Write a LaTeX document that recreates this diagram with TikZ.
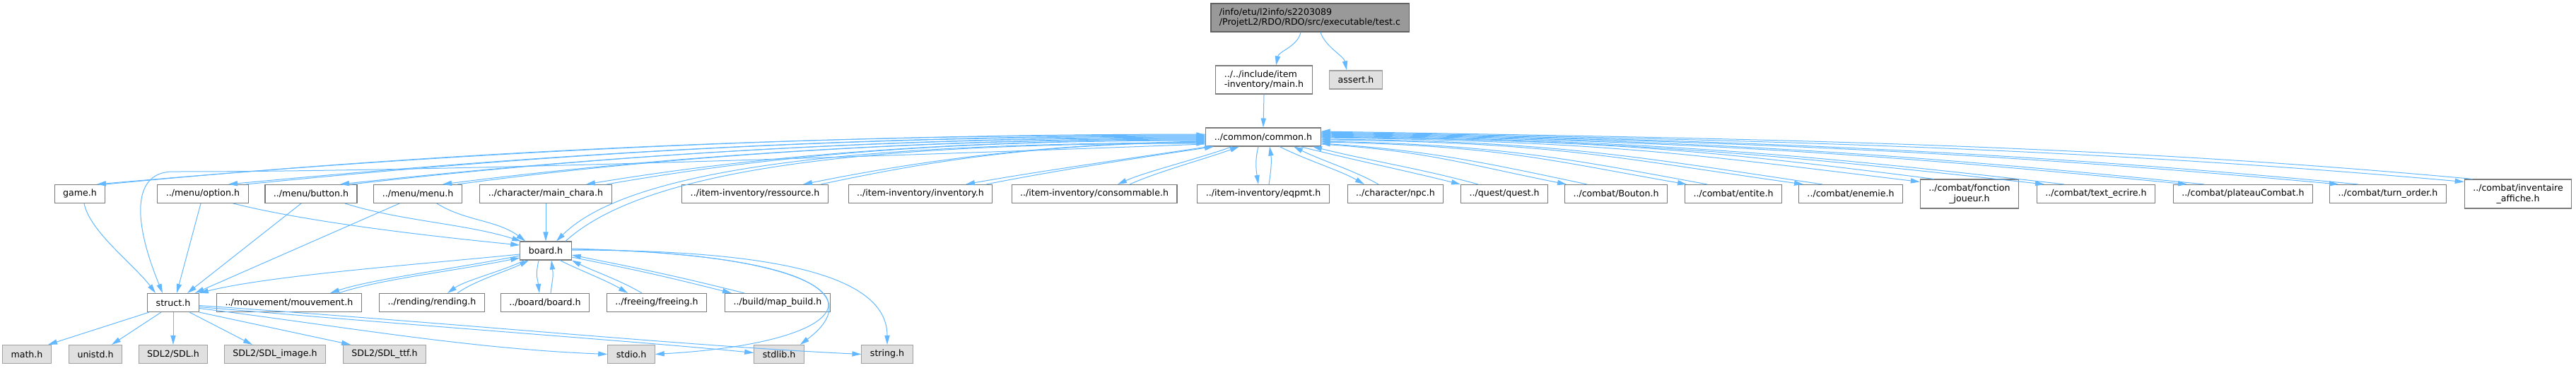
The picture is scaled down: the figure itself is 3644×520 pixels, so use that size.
\documentclass[tikz,border=0pt]{standalone}
\usepackage{fontspec}
\setmainfont{DejaVu Sans}
\usepackage{tikz}
\usetikzlibrary{arrows.meta}
\definecolor{dxEdge}{HTML}{63B8FF}
\definecolor{dxFrame}{HTML}{7A7A7A}
\definecolor{dxSys}{HTML}{E0E0E0}
\definecolor{dxSysFrame}{HTML}{A0A0A0}
\definecolor{dxRoot}{HTML}{999999}
\begin{document}
\begin{tikzpicture}[x=0.5pt, y=0.5pt, font=\fontsize{6.3}{7.2}\selectfont,
  hfile/.style={draw=dxFrame, fill=white, line width=0.55pt, inner xsep=6pt, inner ysep=1pt, minimum height=13pt},
  twoline/.style={hfile, minimum height=20.5pt, align=center},
  syshdr/.style={hfile, draw=dxSysFrame, fill=dxSys},
  root/.style={hfile, fill=dxRoot, draw=dxFrame!80!black, minimum height=20pt, align=left},
  dep/.style={draw=dxEdge, line width=0.5pt, -{Triangle[length=6.5pt,width=3.6pt]}}]
  \useasboundingbox (0,0) rectangle (3644,-520);
  \node[root] (test) at (1853,-25) {/info/etu/l2info/s2203089\\/ProjetL2/RDO/RDO/src/executable/test.c};
  \node[hfile, align=left, minimum height=20pt] (mainh) at (1788,-113) {../../include/item\\-inventory/main.h};
  \node[syshdr] (assert) at (1918,-113) {assert.h};
  \node[hfile] (common) at (1787,-194) {../common/common.h};
  \node[hfile] (game) at (113,-274.5) {game.h};
  \node[hfile] (option) at (287,-274.5) {../menu/option.h};
  \node[hfile] (button) at (440,-274.5) {../menu/button.h};
  \node[hfile] (menu) at (591,-274.5) {../menu/menu.h};
  \node[hfile] (mainchara) at (772,-274.5) {../character/main\_chara.h};
  \node[hfile] (ressource) at (1068,-274.5) {../item-inventory/ressource.h};
  \node[hfile] (inventory) at (1302,-274.5) {../item-inventory/inventory.h};
  \node[hfile] (consommable) at (1548,-274.5) {../item-inventory/consommable.h};
  \node[hfile] (eqpmt) at (1787,-274.5) {../item-inventory/eqpmt.h};
  \node[hfile] (npc) at (1974,-274.5) {../character/npc.h};
  \node[hfile] (quest) at (2128,-274.5) {../quest/quest.h};
  \node[hfile] (bouton) at (2286,-274.5) {../combat/Bouton.h};
  \node[hfile] (entite) at (2452,-274.5) {../combat/entite.h};
  \node[hfile] (enemie) at (2618,-274.5) {../combat/enemie.h};
  \node[twoline] (fonction) at (2786,-274.5) {../combat/fonction\\\_joueur.h};
  \node[hfile] (textecrire) at (2965,-274.5) {../combat/text\_ecrire.h};
  \node[hfile] (plateau) at (3173,-274.5) {../combat/plateauCombat.h};
  \node[hfile] (turnorder) at (3378,-274.5) {../combat/turn\_order.h};
  \node[twoline] (invaff) at (3562,-274.5) {../combat/inventaire\\\_affiche.h};
  \node[hfile] (board) at (772,-355) {board.h};
  \node[hfile] (struct) at (245,-428.5) {struct.h};
  \node[hfile] (mouvement) at (409,-428.5) {../mouvement/mouvement.h};
  \node[hfile] (rending) at (611,-428.5) {../rending/rending.h};
  \node[hfile] (boardboard) at (771,-428.5) {../board/board.h};
  \node[hfile] (freeing) at (929,-428.5) {../freeing/freeing.h};
  \node[hfile] (mapbuild) at (1100,-428.5) {../build/map\_build.h};
  \node[syshdr] (math) at (38,-501.5) {math.h};
  \node[syshdr] (unistd) at (135,-501.5) {unistd.h};
  \node[syshdr] (sdl) at (245,-501.5) {SDL2/SDL.h};
  \node[syshdr] (sdlimage) at (389,-501.5) {SDL2/SDL\_image.h};
  \node[syshdr] (sdlttf) at (544,-501.5) {SDL2/SDL\_ttf.h};
  \node[syshdr] (stdio) at (893,-501.5) {stdio.h};
  \node[syshdr] (stdlib) at (1102,-501.5) {stdlib.h};
  \node[syshdr] (string) at (1255,-501.5) {string.h};
  \draw[dep] ([xshift=-6.5pt]test.south) .. controls +(-4,-20) and +(4,20) .. ([xshift=8.5pt]mainh.north);
  \draw[dep] ([xshift=7.5pt]test.south) .. controls +(6,-20) and +(-4,20) .. ([xshift=-6.5pt]assert.north);
  \draw[dep] (mainh.south) -- (common.north);
  \draw[dep] ([yshift=2pt]common.west) .. controls +(-600,0) and +(450,40) .. ([xshift=12pt]game.north);
  \draw[dep] (game.north east) .. controls +(455,44) and +(-600,0) .. ([yshift=1.5pt]common.west);
  \draw[dep] ([yshift=1pt]common.west) .. controls +(-550,0) and +(400,38) .. ([xshift=18pt]option.north);
  \draw[dep] ([xshift=30.5pt]option.north) .. controls +(400,40) and +(-550,0) .. ([yshift=0.5pt]common.west);
  \draw[dep] (common.west) .. controls +(-480,0) and +(330,36) .. ([xshift=20.5pt]button.north);
  \draw[dep] ([xshift=28.5pt]button.north) .. controls +(330,38) and +(-480,0) .. ([yshift=-0.5pt]common.west);
  \draw[dep] ([yshift=-1pt]common.west) .. controls +(-420,0) and +(280,36) .. ([xshift=17.5pt]menu.north);
  \draw[dep] ([xshift=28pt]menu.north) .. controls +(280,38) and +(-420,0) .. ([yshift=-1.5pt]common.west);
  \draw[dep] ([yshift=-2pt]common.west) .. controls +(-380,0) and +(230,38) .. ([xshift=28.5pt]mainchara.north);
  \draw[dep] ([xshift=43pt]mainchara.north) .. controls +(230,40) and +(-380,0) .. ([yshift=-2.5pt]common.west);
  \draw[dep] ([yshift=-3pt]common.west) .. controls +(-250,-4) and +(150,30) .. ([xshift=34pt]ressource.north);
  \draw[dep] ([xshift=46.5pt]ressource.north) .. controls +(150,32) and +(-250,-4) .. ([yshift=-3.5pt]common.west);
  \draw[dep] ([yshift=-4pt]common.west) .. controls +(-450,0) and +(110,110) .. ([xshift=7.5pt]board.north);
  \draw[dep] ([xshift=14pt]board.north) .. controls +(118,108) and +(-450,0) .. ([yshift=-4.5pt]common.west);
  \draw[dep] ([yshift=-5pt]common.west) .. controls +(-800,-30) and +(250,0) .. (245,-243) .. controls +(-55,0) and +(-45,110) .. ([xshift=-7.5pt]struct.north);
  \draw[dep] ([xshift=-38.5pt]common.south) .. controls +(-100,-15) and +(100,18) .. ([xshift=32pt]inventory.north);
  \draw[dep] ([xshift=46.5pt]inventory.north) .. controls +(100,20) and +(-100,-15) .. ([xshift=-35pt]common.south);
  \draw[dep] ([xshift=-22pt]common.south) .. controls +(-50,-18) and +(40,18) .. ([xshift=16.5pt]consommable.north);
  \draw[dep] ([xshift=25pt]consommable.north) .. controls +(40,18) and +(-50,-18) .. ([xshift=-17pt]common.south);
  \draw[dep] ([xshift=-3.5pt]common.south) .. controls +(-5,-20) and +(-3,20) .. ([xshift=-3.5pt]eqpmt.north);
  \draw[dep] ([xshift=4pt]eqpmt.north) .. controls +(3,20) and +(3,-20) .. ([xshift=4.5pt]common.south);
  \draw[dep] ([xshift=11.5pt]common.south) .. controls +(40,-20) and +(-35,20) .. ([xshift=-22pt]npc.north);
  \draw[dep] ([xshift=-12pt]npc.north) .. controls +(-35,20) and +(40,-20) .. ([xshift=21.5pt]common.south);
  \draw[dep] ([xshift=26pt]common.south) .. controls +(80,-20) and +(-80,20) .. (quest.north west);
  \draw[dep] ([xshift=-18.5pt]quest.north) .. controls +(-80,22) and +(80,-20) .. ([xshift=35pt]common.south);
  \draw[dep] ([yshift=-5pt]common.east) .. controls +(150,-10) and +(-150,30) .. ([xshift=-35pt]bouton.north);
  \draw[dep] ([xshift=-20.5pt]bouton.north) .. controls +(-150,32) and +(150,-10) .. ([yshift=-4.5pt]common.east);
  \draw[dep] ([yshift=-3.5pt]common.east) .. controls +(250,-5) and +(-200,35) .. ([xshift=-33pt]entite.north);
  \draw[dep] ([xshift=-18.5pt]entite.north) .. controls +(-200,37) and +(250,-5) .. ([yshift=-3pt]common.east);
  \draw[dep] ([yshift=-2pt]common.east) .. controls +(330,-3) and +(-270,38) .. ([xshift=-33.5pt]enemie.north);
  \draw[dep] ([xshift=-20pt]enemie.north) .. controls +(-270,40) and +(330,-3) .. ([yshift=-1.5pt]common.east);
  \draw[dep] ([yshift=-0.5pt]common.east) .. controls +(400,-5) and +(-330,40) .. ([yshift=-2pt]fonction.north west);
  \draw[dep] ([xshift=10pt]fonction.north west) .. controls +(-330,42) and +(400,-5) .. (common.east);
  \draw[dep] ([yshift=0.5pt]common.east) .. controls +(460,-7) and +(-380,42) .. ([xshift=-36.5pt]textecrire.north);
  \draw[dep] ([xshift=-22.5pt]textecrire.north) .. controls +(-380,44) and +(460,-7) .. ([yshift=1pt]common.east);
  \draw[dep] ([yshift=1.5pt]common.east) .. controls +(520,-8) and +(-450,44) .. ([xshift=-39.5pt]plateau.north);
  \draw[dep] ([xshift=-27.5pt]plateau.north) .. controls +(-450,46) and +(520,-8) .. ([yshift=2pt]common.east);
  \draw[dep] ([yshift=2.5pt]common.east) .. controls +(560,-9) and +(-500,46) .. ([xshift=-35pt]turnorder.north);
  \draw[dep] ([xshift=-21pt]turnorder.north) .. controls +(-500,48) and +(560,-9) .. ([yshift=3pt]common.east);
  \draw[dep] ([yshift=3.5pt]common.east) .. controls +(600,-10) and +(-540,48) .. ([yshift=-2pt]invaff.north west);
  \draw[dep] ([xshift=6pt]invaff.north west) .. controls +(-540,50) and +(600,-10) .. ([yshift=4pt]common.east);
  \draw[dep] ([xshift=3pt]game.south) .. controls +(8,-40) and +(-30,40) .. ([xshift=-12.5pt]struct.north);
  \draw[dep] ([xshift=-1.5pt]option.south) -- ([xshift=2.5pt]struct.north);
  \draw[dep] ([xshift=-7pt]button.south) -- ([xshift=10pt]struct.north);
  \draw[dep] ([xshift=-13pt]menu.south) -- ([xshift=-3pt]struct.north east);
  \draw[dep] ([xshift=21.5pt]option.south) .. controls +(100,-25) and +(-150,15) .. ([yshift=4pt]board.west);
  \draw[dep] ([xshift=24pt]button.south) .. controls +(80,-25) and +(-80,25) .. ([xshift=1pt]board.north west);
  \draw[dep] ([xshift=13.5pt]menu.south) .. controls +(40,-25) and +(-40,30) .. ([xshift=4pt]board.north west);
  \draw[dep] (mainchara.south) -- (board.north);
  \draw[dep] ([yshift=-2.5pt]board.west) .. controls +(-150,-15) and +(100,25) .. (struct.north east);
  \draw[dep] ([yshift=-3.5pt]board.west) .. controls +(-100,-20) and +(60,20) .. ([xshift=29pt]mouvement.north);
  \draw[dep] ([xshift=35pt]mouvement.north) .. controls +(60,20) and +(-100,-20) .. ([yshift=-5pt]board.west);
  \draw[dep] ([xshift=-15pt]board.south) .. controls +(-30,-15) and +(25,18) .. ([xshift=11pt]rending.north);
  \draw[dep] ([xshift=18pt]rending.north) .. controls +(25,18) and +(-30,-15) .. ([xshift=-12pt]board.south);
  \draw[dep] ([xshift=-5pt]board.south) .. controls +(-5,-24) and +(-3,24) .. ([xshift=-4pt]boardboard.north);
  \draw[dep] ([xshift=4pt]boardboard.north) .. controls +(3,24) and +(3,-24) .. ([xshift=4pt]board.south);
  \draw[dep] ([xshift=10pt]board.south) .. controls +(30,-15) and +(-30,18) .. ([xshift=-20.5pt]freeing.north);
  \draw[dep] ([xshift=-10.5pt]freeing.north) .. controls +(-30,18) and +(30,-15) .. (board.south east);
  \draw[dep] ([yshift=-4.5pt]board.east) .. controls +(100,-20) and +(-100,25) .. ([xshift=-32.5pt]mapbuild.north);
  \draw[dep] ([xshift=-23.5pt]mapbuild.north) .. controls +(-100,25) and +(100,-20) .. ([yshift=-3pt]board.east);
  \draw[dep] ([yshift=1pt]board.east) .. controls +(450,-5) and +(350,20) .. (stdio.east);
  \draw[dep] ([yshift=1.5pt]board.east) .. controls +(380,-10) and +(80,60) .. ([xshift=-3pt]stdlib.north east);
  \draw[dep] ([yshift=0.5pt]board.east) .. controls +(350,0) and +(0,80) .. (string.north);
  \draw[dep] ([xshift=-17pt]struct.south) -- ([xshift=15pt]math.north);
  \draw[dep] ([xshift=-8.5pt]struct.south) -- ([xshift=11.5pt]unistd.north);
  \draw[dep] (struct.south) -- (sdl.north);
  \draw[dep] ([xshift=11.5pt]struct.south) -- ([xshift=-16pt]sdlimage.north);
  \draw[dep] (struct.south east) -- ([xshift=-24pt]sdlttf.north);
  \draw[dep] ([yshift=-4pt]struct.east) .. controls +(200,-25) and +(-200,8) .. (stdio.west);
  \draw[dep] ([yshift=-3pt]struct.east) .. controls +(350,-30) and +(-150,15) .. ([yshift=1pt]stdlib.west);
  \draw[dep] ([yshift=-2pt]struct.east) .. controls +(400,-28) and +(-250,12) .. (string.west);
\end{tikzpicture}
\end{document}
